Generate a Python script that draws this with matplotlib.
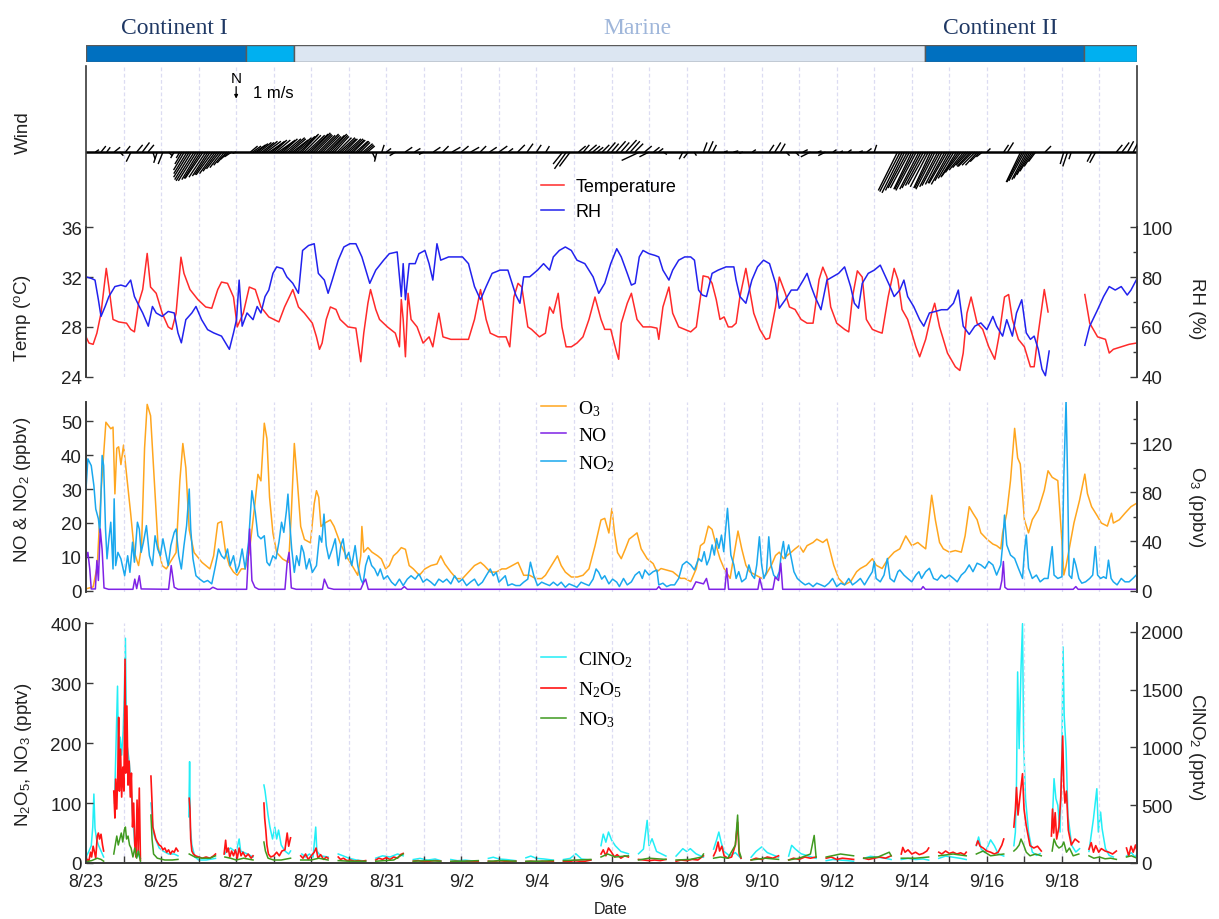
import numpy as np
import matplotlib
matplotlib.use('Agg')
import matplotlib.pyplot as plt

plt.rcParams['font.family'] = ['Liberation Sans', 'DejaVu Sans']
plt.rcParams['mathtext.fontset'] = 'custom'
plt.rcParams['mathtext.rm'] = 'Liberation Serif'
plt.rcParams['mathtext.it'] = 'Liberation Serif:italic'
plt.rcParams['mathtext.bf'] = 'Liberation Serif:bold'
plt.rcParams['mathtext.sf'] = 'Liberation Sans'

nan = np.nan

# === Data (time = days since 8/23 00:00) ===
date_labels = ['8/23', '8/25', '8/27', '8/29', '8/31', '9/2', '9/4',
               '9/6', '9/8', '9/10', '9/12', '9/14', '9/16', '9/18']

phase_names = ['Continent I', '', 'Marine', 'Continent II', '']
phase_start = [0.0, 4.27, 5.54, 22.35, 26.58]
phase_end = [4.27, 5.54, 22.35, 26.58, 28.0]

# wind sticks: (day, u m/s, v m/s)
wind_pts = [
    (0.25, 0.3, 0.2), (0.40, 0.4, 0.5), (0.55, 0.3, 0.4), (0.75, 0.5, 0.4), (0.90, 0.3, -0.3),
    (1.05, 0.4, 0.5), (1.20, -0.4, -0.8), (1.35, 0.5, 0.6), (1.50, 0.6, 0.8), (1.65, 0.5, 0.6),
    (1.78, 0.2, -0.6), (1.90, -0.3, -0.9), (2.05, -0.4, -1.0), (2.20, 0.3, -0.3), (2.35, -0.3, -0.5),
    (2.50, -0.3, -0.5), (2.62, -0.9, -1.5), (2.75, -1.3, -2.1), (2.88, -1.5, -2.4), (3.00, -1.4, -2.3),
    (3.12, -1.5, -2.2), (3.25, -1.3, -2.0), (3.38, -1.4, -1.9), (3.50, -1.2, -1.6), (3.62, -1.0, -1.3),
    (3.75, -0.8, -0.9), (3.88, -0.6, -0.4), (4.00, -0.3, -0.1),
    (4.38, 0.6, 0.5), (4.50, 0.9, 0.6), (4.62, 1.0, 0.8), (4.75, 1.1, 0.9), (4.88, 1.2, 0.8),
    (5.00, 1.1, 1.0), (5.12, 1.3, 0.9), (5.25, 1.2, 1.1), (5.38, 1.4, 1.2), (5.50, 1.3, 1.0),
    (5.62, 1.5, 1.3), (5.75, 1.4, 1.5), (5.88, 1.5, 1.4), (6.00, 1.6, 1.6), (6.12, 1.4, 1.4),
    (6.25, 1.5, 1.5), (6.38, 1.3, 1.3), (6.50, 1.4, 1.5), (6.62, 1.2, 1.3), (6.75, 1.3, 1.2),
    (6.88, 1.1, 1.1), (7.00, 1.2, 1.1), (7.12, 1.0, 1.0), (7.25, 0.9, 0.9), (7.38, 0.8, 0.7),
    (7.50, 0.6, 0.5), (7.62, 0.3, -0.6), (7.75, -0.2, -0.8), (7.88, 0.2, 0.6),
    (8.00, 0.4, 0.3), (8.25, -0.5, -0.3), (8.50, 0.6, 0.4), (8.75, 0.5, 0.3), (9.00, -0.4, -0.2),
    (9.25, 0.6, 0.4), (9.50, 0.5, 0.5), (9.75, 0.7, 0.4), (10.00, 0.6, 0.5), (10.25, 0.7, 0.4),
    (10.50, 0.5, 0.5), (10.75, 0.6, 0.4), (11.00, 0.7, 0.5), (11.25, 0.4, 0.3), (11.50, 0.6, 0.6),
    (11.75, 0.5, 0.7), (12.00, 0.4, 0.6), (12.25, 0.3, 0.5),
    (12.70, -0.8, -1.0), (12.80, -1.0, -1.4), (12.90, -0.9, -1.2),
    (13.12, 0.6, 0.5), (13.25, 0.5, 0.6), (13.38, 0.7, 0.6), (13.50, 0.6, 0.5), (13.62, 0.5, 0.4),
    (13.75, 0.6, 0.6), (13.88, 0.7, 0.8), (14.00, 0.6, 0.7), (14.12, 0.8, 0.9), (14.25, 0.7, 0.8),
    (14.38, 0.9, 1.0), (14.50, 0.8, 0.9), (14.62, 0.7, 0.7), (14.75, -1.5, -0.7), (14.88, 0.6, 0.5),
    (15.00, -0.8, -0.4), (15.12, 0.5, 0.4), (15.25, 0.4, 0.3), (15.38, 0.3, -0.2),
    (15.90, -0.3, -0.6), (16.05, -0.4, -0.5), (16.20, 0.2, -0.3),
    (16.45, 0.3, 0.8), (16.58, 0.4, 0.9), (16.70, 0.3, 0.6),
    (17.00, 0.3, 0.1), (17.25, 0.4, 0.1), (17.50, -0.3, -0.1), (17.75, 0.3, 0.2),
    (18.20, 0.4, 0.6), (18.35, 0.5, 0.8), (18.50, 0.4, 0.7), (18.65, 0.3, -0.3),
    (18.90, 0.3, -0.3), (19.10, 0.4, 0.2), (19.30, -0.8, -0.4), (19.50, 0.3, 0.1), (19.70, -0.6, -0.3),
    (19.90, 0.3, 0.2), (20.10, 0.2, 0.1), (20.30, 0.3, 0.2), (20.60, 0.3, 0.1), (20.80, 0.4, 0.3),
    (21.00, 0.2, 0.6),
    (21.62, -1.6, -3.2), (21.75, -1.7, -3.4), (21.88, -1.6, -3.0), (22.00, -1.5, -3.1), (22.12, -1.7, -3.2),
    (22.25, -1.6, -3.0), (22.38, -1.5, -2.7), (22.50, -1.4, -3.0), (22.62, -1.6, -3.1), (22.75, -1.5, -2.8),
    (22.88, -1.4, -2.6), (23.00, -1.5, -2.7), (23.12, -1.3, -2.2), (23.25, -1.4, -2.0), (23.38, -1.2, -1.5),
    (23.50, -1.0, -1.1), (23.62, -1.2, -1.2), (23.75, -1.0, -1.1), (23.88, -0.5, -0.4), (24.00, 0.3, 0.3),
    (24.45, 0.4, 0.6), (24.55, 0.5, 0.8),
    (24.90, -1.2, -2.5), (25.00, -1.3, -2.4), (25.10, -1.2, -2.2), (25.20, -1.0, -1.6), (25.30, -0.6, -0.8),
    (25.55, 0.5, 0.5),
    (26.05, -0.3, -1.0), (26.15, -0.4, -1.2), (26.25, -0.2, -0.6),
    (26.80, -0.4, -0.8), (26.90, -0.5, -0.9),
    (27.45, 0.5, 0.6), (27.60, 0.6, 0.8), (27.75, 0.5, 0.9), (27.90, 0.4, 0.8),
    # in-between sticks of the strong-wind spells
    (2.56, -0.6, -1.0), (2.69, -1.1, -1.8), (2.81, -1.4, -2.3), (2.94, -1.5, -2.4), (3.06, -1.4, -2.2),
    (3.19, -1.4, -2.1), (3.31, -1.3, -1.9), (3.44, -1.3, -1.8), (3.56, -1.1, -1.4), (3.69, -0.9, -1.1),
    (3.81, -0.7, -0.6),
    (4.44, 0.7, 0.5), (4.56, 0.9, 0.7), (4.69, 1.0, 0.8), (4.81, 1.2, 0.9), (4.94, 1.1, 0.9),
    (5.06, 1.2, 1.0), (5.19, 1.2, 1.0), (5.31, 1.3, 1.1), (5.44, 1.3, 1.1), (5.56, 1.4, 1.2),
    (5.69, 1.5, 1.4), (5.81, 1.4, 1.4), (5.94, 1.6, 1.5), (6.06, 1.5, 1.5), (6.19, 1.4, 1.4),
    (6.31, 1.4, 1.4), (6.44, 1.4, 1.4), (6.56, 1.3, 1.4), (6.69, 1.2, 1.2), (6.81, 1.2, 1.1),
    (6.94, 1.2, 1.1), (7.06, 1.1, 1.0), (7.19, 1.0, 0.9), (7.31, 0.8, 0.8), (7.44, 0.7, 0.6),
    (21.69, -1.7, -3.3), (21.81, -1.6, -3.2), (21.94, -1.6, -3.0), (22.06, -1.6, -3.1), (22.19, -1.6, -3.1),
    (22.31, -1.5, -2.8), (22.44, -1.5, -2.9), (22.56, -1.5, -3.0), (22.69, -1.5, -2.9), (22.81, -1.4, -2.7),
    (22.94, -1.5, -2.6), (23.06, -1.4, -2.4), (23.19, -1.3, -2.1), (23.31, -1.3, -1.7), (23.44, -1.1, -1.3),
    (23.56, -1.1, -1.2), (23.69, -1.1, -1.1), (23.81, -0.8, -0.8),
    (24.95, -1.3, -2.5), (25.05, -1.2, -2.3), (25.15, -1.1, -1.9), (25.25, -0.8, -1.2)]

temp_pts = [
    (0.00, 27.2), (0.08, 26.7), (0.19, 26.6), (0.29, 27.5), (0.40, 29.1), (0.54, 32.7), (0.61, 31.2),
    (0.72, 28.6), (0.87, 28.4), (1.08, 28.3), (1.19, 27.8), (1.29, 27.6), (1.40, 29.9), (1.51, 31.0),
    (1.63, 33.9), (1.72, 31.2), (1.87, 30.7), (2.03, 29.1), (2.19, 28.0), (2.29, 27.8), (2.40, 29.1),
    (2.53, 33.6), (2.61, 32.3), (2.77, 31.0), (2.98, 30.2), (3.19, 29.6), (3.35, 29.5), (3.51, 31.0),
    (3.61, 31.6), (3.77, 31.5), (3.93, 30.4), (4.03, 28.0), (4.19, 29.1), (4.35, 31.2), (4.51, 31.0),
    (4.66, 29.6), (4.87, 28.8), (5.14, 28.4), (5.29, 29.6), (5.51, 31.0), (5.66, 29.6), (5.82, 29.1),
    (6.03, 28.3), (6.14, 27.2), (6.22, 26.2), (6.29, 26.7), (6.40, 28.6), (6.51, 29.6), (6.66, 29.4),
    (6.77, 28.6), (6.98, 28.0), (7.19, 27.9), (7.32, 25.2), (7.40, 27.5), (7.51, 29.9), (7.58, 31.0),
    (7.72, 29.4), (7.82, 28.6), (8.03, 28.0), (8.24, 27.5), (8.35, 26.4), (8.40, 30.2), (8.45, 28.6),
    (8.51, 25.6), (8.58, 30.7), (8.66, 28.6), (8.82, 28.0), (8.98, 26.7), (9.14, 27.2), (9.24, 26.4),
    (9.35, 28.3), (9.40, 29.1), (9.51, 27.2), (9.72, 27.0), (9.93, 27.0), (10.19, 27.0), (10.35, 28.6),
    (10.51, 31.0), (10.66, 28.6), (10.77, 27.5), (10.98, 27.2), (11.19, 27.2), (11.29, 26.4), (11.40, 30.4),
    (11.51, 31.5), (11.61, 31.2), (11.77, 28.0), (11.87, 27.8), (12.08, 27.2), (12.24, 27.5), (12.35, 29.6),
    (12.45, 29.1), (12.58, 30.7), (12.68, 28.0), (12.79, 26.4), (12.93, 26.4), (13.08, 26.7), (13.24, 27.2),
    (13.40, 28.6), (13.56, 30.4), (13.72, 28.6), (13.82, 27.8), (13.98, 27.8), (14.14, 25.9), (14.19, 25.4),
    (14.26, 28.3), (14.42, 29.9), (14.53, 30.7), (14.68, 28.6), (14.84, 28.0), (15.05, 28.0), (15.21, 27.9),
    (15.26, 27.0), (15.37, 29.6), (15.53, 31.2), (15.63, 29.1), (15.79, 28.0), (15.95, 27.8), (16.11, 27.6),
    (16.26, 28.0), (16.37, 30.4), (16.44, 32.1), (16.58, 32.0), (16.68, 31.5), (16.79, 30.2), (16.89, 28.6),
    (17.00, 28.8), (17.11, 28.0), (17.21, 28.0), (17.32, 28.3), (17.42, 30.4), (17.58, 32.7), (17.68, 31.0),
    (17.79, 29.1), (17.95, 27.8), (18.11, 27.0), (18.21, 27.1), (18.37, 29.6), (18.47, 32.0), (18.63, 30.7),
    (18.74, 29.6), (18.89, 29.4), (19.05, 28.6), (19.21, 28.3), (19.37, 28.3), (19.53, 31.8), (19.63, 32.8),
    (19.74, 32.0), (19.84, 29.6), (20.00, 28.3), (20.21, 27.8), (20.32, 27.6), (20.42, 30.4), (20.55, 32.5),
    (20.68, 32.0), (20.79, 28.6), (20.95, 27.8), (21.11, 27.6), (21.21, 27.5), (21.37, 30.4), (21.53, 32.7),
    (21.63, 31.8), (21.74, 29.4), (21.89, 28.6), (22.11, 26.4), (22.21, 25.6), (22.37, 27.0), (22.53, 29.1),
    (22.61, 29.9), (22.74, 28.0), (22.95, 25.9), (23.16, 24.8), (23.28, 24.5), (23.37, 25.9), (23.47, 29.1),
    (23.58, 30.4), (23.74, 28.3), (23.89, 27.8), (24.05, 26.4), (24.21, 25.4), (24.32, 27.2), (24.47, 30.4),
    (24.58, 30.6), (24.68, 28.6), (24.84, 27.0), (25.00, 26.4), (25.16, 24.8), (25.26, 24.8), (25.37, 27.5),
    (25.53, 31.0), (25.63, 29.2), (26.10, nan), (26.61, 30.6), (26.74, 28.3), (26.95, 27.2), (27.16, 27.0),
    (27.26, 25.9), (27.37, 26.2), (27.58, 26.4), (27.79, 26.6), (27.98, 26.7)]

rh_pts = [
    (0.00, 80.1), (0.14, 79.5), (0.24, 78.8), (0.33, 70.9), (0.40, 64.2), (0.51, 68.2), (0.61, 72.2),
    (0.77, 76.2), (0.93, 76.8), (1.06, 76.2), (1.19, 78.8), (1.29, 72.2), (1.42, 68.2), (1.51, 65.6),
    (1.66, 60.3), (1.77, 68.2), (1.87, 65.6), (2.03, 64.2), (2.19, 66.2), (2.35, 65.6), (2.45, 57.6),
    (2.54, 53.6), (2.66, 62.9), (2.82, 65.6), (2.93, 68.2), (3.08, 62.9), (3.24, 58.9), (3.40, 57.6),
    (3.61, 56.3), (3.82, 51.0), (3.93, 57.6), (4.01, 62.9), (4.08, 78.8), (4.16, 60.3), (4.29, 65.6),
    (4.45, 62.9), (4.56, 68.2), (4.66, 65.6), (4.77, 72.2), (4.87, 74.8), (4.98, 81.5), (5.08, 84.1),
    (5.24, 83.4), (5.35, 80.1), (5.51, 77.5), (5.66, 73.5), (5.77, 90.7), (5.93, 92.7), (6.08, 93.4),
    (6.19, 81.5), (6.35, 78.8), (6.45, 73.5), (6.56, 78.8), (6.72, 86.8), (6.87, 92.1), (7.03, 93.4),
    (7.19, 93.4), (7.35, 88.1), (7.56, 77.5), (7.72, 82.8), (7.93, 86.8), (8.08, 89.4), (8.29, 90.1),
    (8.40, 72.2), (8.45, 85.4), (8.51, 70.9), (8.61, 85.4), (8.77, 85.4), (8.87, 89.4), (9.03, 90.7),
    (9.14, 85.4), (9.24, 78.8), (9.35, 93.4), (9.45, 86.8), (9.66, 88.1), (9.82, 88.1), (10.03, 88.1),
    (10.19, 85.4), (10.35, 76.2), (10.51, 70.9), (10.66, 76.2), (10.82, 81.5), (11.03, 82.8), (11.24, 82.8),
    (11.35, 77.5), (11.45, 72.8), (11.56, 69.5), (11.66, 80.1), (11.82, 80.1), (12.03, 82.8), (12.19, 85.4),
    (12.35, 82.8), (12.45, 88.1), (12.61, 90.7), (12.77, 92.1), (12.93, 90.7), (13.08, 86.8), (13.29, 85.4),
    (13.51, 80.1), (13.66, 73.5), (13.82, 77.5), (13.98, 85.4), (14.14, 91.4), (14.26, 88.1), (14.42, 81.5),
    (14.53, 76.8), (14.63, 77.5), (14.74, 88.1), (14.84, 90.7), (15.00, 89.4), (15.16, 88.7), (15.26, 88.1),
    (15.37, 82.8), (15.53, 78.8), (15.63, 82.8), (15.79, 86.8), (15.95, 88.1), (16.11, 88.1), (16.21, 86.8),
    (16.32, 74.8), (16.42, 72.8), (16.53, 72.2), (16.68, 81.5), (16.84, 82.8), (17.05, 84.1), (17.26, 84.1),
    (17.32, 78.8), (17.42, 72.2), (17.58, 69.5), (17.74, 78.8), (17.89, 84.1), (18.05, 86.8), (18.21, 85.4),
    (18.37, 77.5), (18.47, 67.5), (18.63, 70.9), (18.79, 74.8), (18.95, 74.8), (19.11, 78.8), (19.21, 81.5),
    (19.32, 76.2), (19.42, 72.2), (19.58, 66.9), (19.74, 78.8), (19.89, 80.1), (20.05, 81.5), (20.21, 84.1),
    (20.37, 76.2), (20.47, 69.5), (20.58, 67.5), (20.68, 77.5), (20.84, 81.5), (21.00, 82.8), (21.16, 84.8),
    (21.26, 81.5), (21.42, 76.2), (21.53, 72.2), (21.68, 74.8), (21.79, 78.8), (21.89, 72.2), (22.05, 68.2),
    (22.21, 62.9), (22.32, 60.3), (22.47, 65.6), (22.63, 66.2), (22.79, 66.9), (22.95, 66.9), (23.11, 69.5),
    (23.24, 74.8), (23.37, 60.3), (23.53, 57.0), (23.68, 60.3), (23.84, 61.6), (24.00, 58.9), (24.16, 64.2),
    (24.26, 60.3), (24.42, 56.3), (24.53, 62.9), (24.68, 56.3), (24.79, 65.6), (24.93, 70.9), (25.05, 57.6),
    (25.16, 55.0), (25.26, 56.3), (25.37, 51.0), (25.47, 43.0), (25.56, 40.4), (25.66, 50.3), (26.10, nan),
    (26.61, 52.6), (26.74, 60.3), (26.95, 66.9), (27.11, 72.2), (27.26, 76.2), (27.42, 74.8), (27.58, 76.2),
    (27.74, 72.8), (27.84, 74.8), (27.98, 78.8)]

o3_pts = [
    (0.00, 1.5), (0.19, 3.0), (0.30, 20), (0.40, 80), (0.53, 137), (0.66, 131.7), (0.72, 133), (0.77, 78.7),
    (0.82, 115.8), (0.87, 117), (0.93, 102.5), (1.00, 118.4), (1.08, 94.6), (1.19, 62.8), (1.29, 31),
    (1.40, 20.4), (1.48, 36.3), (1.56, 115.8), (1.63, 151.5), (1.72, 142.3), (1.82, 89.3), (1.92, 36.3),
    (2.03, 20.4), (2.14, 17.7), (2.24, 23), (2.40, 31), (2.50, 89.3), (2.58, 119.7), (2.66, 99.9),
    (2.75, 49.5), (2.88, 31), (3.09, 23), (3.30, 17.7), (3.40, 28.3), (3.51, 54.8), (3.61, 56.2),
    (3.72, 31), (3.82, 20.4), (3.93, 15.1), (4.03, 12.5), (4.14, 17.7), (4.24, 17.7), (4.35, 31),
    (4.50, 70.7), (4.58, 94.6), (4.66, 89.3), (4.75, 136.2), (4.82, 123.7), (4.89, 76), (4.98, 46.9),
    (5.08, 31), (5.24, 25.7), (5.40, 23), (5.47, 62.8), (5.55, 119.7), (5.63, 89.3), (5.72, 52.2),
    (5.82, 41.6), (5.98, 38.9), (6.08, 70.7), (6.14, 81.3), (6.20, 76), (6.26, 52.2), (6.35, 54.8),
    (6.51, 57.5), (6.61, 52.2), (6.77, 38.9), (6.93, 28.3), (7.09, 20.4), (7.24, 12.5), (7.32, 28.3),
    (7.35, 52.2), (7.40, 31.3), (7.51, 35), (7.62, 31.3), (7.77, 28.3), (7.87, 25.7), (7.98, 17.7),
    (8.08, 20.4), (8.19, 28.3), (8.29, 31), (8.40, 35), (8.51, 33.6), (8.61, 20.4), (8.72, 17.7),
    (8.88, 12.5), (9.03, 17.7), (9.19, 20.4), (9.35, 21.7), (9.45, 28.3), (9.56, 21.7), (9.72, 15.1),
    (9.87, 9.8), (10.03, 9.8), (10.19, 15.1), (10.35, 20.4), (10.51, 23), (10.61, 20.4), (10.77, 15.1),
    (10.93, 15.1), (11.08, 17.7), (11.19, 17.7), (11.35, 20.4), (11.51, 23), (11.66, 12.5), (11.82, 12.5),
    (11.98, 9.8), (12.14, 9.8), (12.24, 12.5), (12.40, 20.4), (12.56, 28.3), (12.66, 20.4), (12.77, 15.1),
    (12.93, 11.1), (13.09, 11.1), (13.24, 12.5), (13.40, 17.7), (13.56, 36.3), (13.72, 57.5), (13.82, 58.8),
    (13.93, 46.9), (14.01, 66.8), (14.08, 46.9), (14.16, 31), (14.26, 26), (14.37, 34), (14.47, 41.9),
    (14.58, 44.5), (14.68, 47), (14.79, 34), (14.95, 26), (15.11, 22), (15.21, 15.4), (15.32, 18),
    (15.47, 16.7), (15.63, 15.4), (15.74, 12.7), (15.84, 10), (15.95, 10), (16.11, 7.4), (16.26, 18),
    (16.37, 36.6), (16.47, 39), (16.58, 52.5), (16.68, 49.8), (16.79, 36.6), (16.89, 26), (17.00, 18),
    (17.16, 10), (17.26, 28.6), (17.37, 48.5), (17.47, 34), (17.58, 20.7), (17.68, 15.4), (17.84, 12.7),
    (18.00, 10), (18.11, 12.7), (18.26, 20.7), (18.37, 28.6), (18.47, 31.3), (18.58, 26), (18.68, 28.6),
    (18.79, 31.3), (18.89, 34), (19.00, 36.6), (19.11, 31.3), (19.21, 36.6), (19.37, 39.2), (19.47, 41.9),
    (19.63, 39.2), (19.74, 41.9), (19.81, 34), (19.92, 20.7), (20.05, 10), (20.21, 4.8), (20.37, 7.4),
    (20.53, 15.4), (20.63, 18), (20.79, 20.7), (20.95, 26), (21.05, 20.7), (21.21, 18), (21.37, 26),
    (21.53, 31.3), (21.68, 34), (21.84, 44.5), (22.00, 36.6), (22.16, 39.2), (22.26, 36.6), (22.37, 34),
    (22.53, 77.6), (22.63, 57.2), (22.74, 39.2), (22.84, 34), (23.00, 31.3), (23.16, 32.6), (23.32, 31.3),
    (23.42, 44.5), (23.53, 68.3), (23.63, 63), (23.74, 57.7), (23.84, 47), (24.00, 41.9), (24.16, 37.9),
    (24.26, 36.6), (24.37, 34), (24.42, 47), (24.53, 63), (24.63, 89.5), (24.74, 132), (24.82, 108),
    (24.89, 103), (25.00, 57.7), (25.11, 47), (25.21, 57.7), (25.37, 65.7), (25.53, 81.6), (25.63, 97.5),
    (25.74, 92.2), (25.89, 89.5), (26.00, 40), (26.05, 12.7), (26.11, 20), (26.21, 36.6), (26.32, 55),
    (26.47, 73.6), (26.61, 94.8), (26.68, 78.9), (26.79, 68.3), (26.95, 60.4), (27.05, 55), (27.21, 52.5),
    (27.32, 63), (27.37, 55), (27.53, 57.7), (27.68, 63), (27.84, 68.3), (27.98, 70.9)]

no_pts = [
    (0.00, 9.4), (0.05, 11.3), (0.10, 6.4), (0.14, 0.5), (0.25, 0.5), (0.29, 8.9), (0.33, 3.0), (0.38, 18.2),
    (0.43, 12.0), (0.48, 0.8), (0.60, 0.4), (1.25, 0.4), (1.30, 3.4), (1.35, 0.6), (1.42, 4.4), (1.47, 0.5),
    (2.20, 0.4), (2.27, 7.4), (2.35, 1.0), (2.45, 0.4), (3.30, 0.4), (3.38, 1.0), (3.50, 0.4), (4.28, 0.4),
    (4.36, 18.2), (4.42, 3.0), (4.50, 1.0), (4.60, 0.4), (5.30, 0.4), (5.36, 8.4), (5.41, 11.3), (5.47, 0.8),
    (5.60, 0.4), (6.30, 0.4), (6.35, 3.4), (6.45, 0.8), (6.60, 0.4), (7.32, 0.4), (7.40, 2.5), (7.45, 3.4),
    (7.52, 0.4), (8.40, 0.4), (8.48, 1.2), (8.56, 0.4), (15.20, 0.4), (15.26, 1.2), (15.32, 0.4),
    (16.15, 0.4), (16.25, 2.6), (16.45, 2.0), (16.53, 3.6), (16.60, 0.4), (17.02, 0.4), (17.07, 6.6),
    (17.12, 0.4), (17.90, 0.4), (17.95, 3.6), (18.02, 0.4), (18.30, 0.4), (18.36, 4.0), (18.45, 3.0),
    (18.51, 8.1), (18.56, 0.4), (22.25, 0.4), (22.30, 1.2), (22.36, 0.4), (24.35, 0.4), (24.40, 3.0),
    (24.44, 8.6), (24.48, 1.0), (24.55, 0.4), (26.30, 0.4), (26.37, 1.2), (26.43, 0.4), (28.00, 0.4)]

no2_pts = [
    (0.00, 30.0), (0.05, 38.9), (0.14, 36.9), (0.21, 31.0), (0.26, 24.1), (0.33, 21.2), (0.37, 17.2),
    (0.43, 39.9), (0.47, 36.9), (0.52, 18.2), (0.56, 9.4), (0.61, 15.3), (0.66, 20.2), (0.72, 6.4),
    (0.75, 27.1), (0.79, 7.4), (0.85, 11.3), (0.93, 9.4), (1.03, 4.4), (1.11, 10.3), (1.17, 5.4),
    (1.24, 14.3), (1.29, 8.4), (1.37, 20.2), (1.42, 18.2), (1.47, 11.3), (1.53, 14.3), (1.61, 19.2),
    (1.69, 10.3), (1.77, 7.4), (1.84, 16.2), (1.91, 12.3), (1.98, 10.3), (2.05, 15.3), (2.12, 11.3),
    (2.19, 7.4), (2.26, 13.3), (2.35, 17.2), (2.40, 18.2), (2.47, 10.3), (2.54, 6.4), (2.61, 13.3),
    (2.68, 19.2), (2.75, 30.0), (2.79, 18.2), (2.85, 9.4), (2.93, 4.4), (3.03, 3.4), (3.14, 2.5),
    (3.24, 3.0), (3.35, 2.0), (3.45, 7.4), (3.53, 12.3), (3.61, 10.3), (3.69, 9.4), (3.77, 12.3),
    (3.84, 7.4), (3.93, 10.3), (4.01, 5.4), (4.08, 7.4), (4.16, 12.3), (4.24, 6.4), (4.33, 14.3),
    (4.42, 29.5), (4.51, 23.1), (4.58, 16.2), (4.66, 15.3), (4.75, 16.2), (4.82, 8.4), (4.89, 7.4),
    (4.98, 10.3), (5.06, 9.4), (5.14, 14.3), (5.21, 20.2), (5.27, 17.2), (5.34, 23.6), (5.38, 28.5),
    (5.42, 21.2), (5.48, 12.3), (5.55, 5.4), (5.61, 10.3), (5.68, 7.4), (5.74, 13.3), (5.80, 11.3),
    (5.87, 6.4), (5.95, 9.4), (6.03, 5.4), (6.14, 7.4), (6.22, 16.2), (6.28, 14.3), (6.34, 22.6),
    (6.40, 13.3), (6.47, 9.4), (6.56, 12.3), (6.64, 15.3), (6.72, 7.4), (6.79, 13.3), (6.85, 15.3),
    (6.92, 9.4), (7.00, 11.3), (7.08, 7.4), (7.17, 13.3), (7.24, 7.4), (7.32, 3.4), (7.38, 2.0),
    (7.45, 7.4), (7.53, 10.3), (7.61, 7.4), (7.69, 6.4), (7.77, 4.4), (7.84, 6.4), (7.93, 3.4),
    (8.03, 4.4), (8.14, 2.5), (8.24, 1.5), (8.35, 3.4), (8.45, 1.5), (8.56, 3.4), (8.66, 4.4),
    (8.77, 3.4), (8.87, 4.9), (8.98, 2.5), (9.08, 3.4), (9.19, 2.5), (9.29, 1.5), (9.40, 3.4),
    (9.51, 2.5), (9.61, 3.4), (9.72, 2.0), (9.82, 4.4), (9.93, 2.5), (10.03, 3.4), (10.14, 1.5),
    (10.24, 2.5), (10.35, 3.4), (10.45, 1.5), (10.56, 2.5), (10.66, 4.4), (10.77, 6.4), (10.85, 4.4),
    (10.93, 5.4), (11.00, 2.5), (11.08, 3.4), (11.17, 4.4), (11.24, 1.5), (11.35, 2.0), (11.45, 1.5),
    (11.56, 1.5), (11.66, 2.5), (11.77, 3.4), (11.84, 8.4), (11.93, 4.4), (12.03, 1.5), (12.14, 2.5),
    (12.24, 2.0), (12.35, 1.5), (12.45, 2.5), (12.56, 1.5), (12.66, 2.5), (12.77, 1.0), (12.87, 2.0),
    (12.98, 1.5), (13.08, 1.0), (13.19, 2.5), (13.29, 2.0), (13.40, 1.5), (13.51, 3.4), (13.59, 6.4),
    (13.66, 5.4), (13.74, 3.4), (13.82, 4.4), (13.93, 2.0), (14.03, 3.4), (14.14, 2.5),
    (14.21, 1.2), (14.32, 3.6), (14.42, 1.7), (14.53, 2.6), (14.63, 4.6), (14.74, 5.6), (14.82, 3.6),
    (14.89, 6.1), (15.00, 4.6), (15.11, 5.6), (15.21, 6.1), (15.26, 1.7), (15.37, 2.2), (15.47, 1.2),
    (15.58, 1.7), (15.68, 1.7), (15.79, 3.6), (15.89, 7.6), (16.00, 8.6), (16.11, 7.6), (16.21, 6.1),
    (16.32, 9.5), (16.40, 8.6), (16.47, 11.5), (16.54, 7.6), (16.61, 9.5), (16.68, 13.5), (16.74, 10.5),
    (16.80, 15.4), (16.86, 12.5), (16.93, 16.4), (16.99, 11.5), (17.05, 19.4), (17.09, 24.3), (17.14, 16.4),
    (17.18, 10.5), (17.26, 7.6), (17.32, 3.6), (17.39, 5.6), (17.47, 2.6), (17.58, 3.6), (17.66, 7.6),
    (17.74, 4.6), (17.81, 3.6), (17.87, 7.6), (17.94, 15.9), (18.00, 7.6), (18.06, 3.6), (18.13, 5.6),
    (18.19, 15.9), (18.25, 7.6), (18.32, 4.6), (18.40, 3.6), (18.47, 5.6), (18.53, 11.5), (18.58, 14.5),
    (18.63, 9.5), (18.72, 13.5), (18.79, 9.5), (18.86, 5.6), (18.95, 3.6), (19.05, 2.6), (19.16, 1.7),
    (19.26, 2.2), (19.37, 1.2), (19.47, 2.2), (19.58, 1.7), (19.68, 1.2), (19.79, 2.2), (19.89, 3.6),
    (20.00, 1.2), (20.11, 2.2), (20.21, 1.7), (20.32, 3.6), (20.42, 1.7), (20.53, 2.6), (20.63, 3.6),
    (20.74, 1.7), (20.84, 3.6), (20.95, 5.6), (21.00, 8.6), (21.05, 3.6), (21.16, 2.6), (21.26, 4.6),
    (21.35, 9.5), (21.42, 3.6), (21.53, 2.6), (21.63, 5.6), (21.68, 6.1), (21.79, 4.6), (21.89, 3.6),
    (22.00, 2.6), (22.11, 4.6), (22.19, 5.6), (22.26, 3.6), (22.37, 5.6), (22.47, 6.6), (22.58, 3.6),
    (22.68, 3.1), (22.79, 4.6), (22.89, 3.6), (23.00, 4.6), (23.11, 3.6), (23.21, 2.6), (23.32, 4.6),
    (23.42, 5.6), (23.53, 7.6), (23.63, 5.6), (23.74, 8.1), (23.84, 7.6), (23.95, 6.6), (24.05, 8.6),
    (24.16, 7.6), (24.26, 4.6), (24.37, 7.6), (24.42, 13.5), (24.47, 22.3), (24.53, 13.5), (24.63, 10.5),
    (24.74, 9.5), (24.84, 6.6), (24.95, 3.6), (25.00, 11.5), (25.05, 16.4), (25.11, 6.6), (25.21, 3.6),
    (25.32, 4.6), (25.42, 2.6), (25.53, 3.6), (25.63, 3.6), (25.74, 13.0), (25.79, 4.6), (25.89, 3.6),
    (26.00, 4.1), (26.05, 33.5), (26.11, 56.3), (26.15, 33.5), (26.19, 4.6), (26.26, 3.6), (26.32, 9.5),
    (26.37, 7.6), (26.45, 3.6), (26.53, 2.2), (26.63, 2.6), (26.74, 3.6), (26.82, 4.6), (26.89, 13.0),
    (26.95, 4.6), (27.03, 3.6), (27.11, 4.1), (27.18, 3.6), (27.24, 9.0), (27.31, 3.6), (27.37, 2.6),
    (27.47, 1.7), (27.58, 3.6), (27.68, 2.6), (27.79, 2.6), (27.89, 3.6), (27.98, 4.6)]

n2o5_pts = [
    (0.00, 2), (0.04, 6), (0.08, 4), (0.12, 18), (0.15, 10), (0.19, 28), (0.22, 20), (0.26, 8), (0.30, 45),
    (0.33, 50), (0.36, 40), (0.40, 48), (0.44, 30), (0.47, 20), (0.6, nan),
    (0.74, 120), (0.77, 75), (0.79, 140), (0.82, 90), (0.85, 160), (0.87, 243), (0.89, 120), (0.92, 190),
    (0.95, 110), (0.98, 160), (1.01, 120), (1.04, 340), (1.06, 150), (1.09, 262), (1.12, 130), (1.15, 170),
    (1.18, 110), (1.21, 150), (1.24, 60), (1.27, 100), (1.30, 30), (1.33, 10), (1.36, 105), (1.39, 20),
    (1.42, 125), (1.45, 5), (1.6, nan),
    (1.73, 145), (1.76, 100), (1.78, 60), (1.82, 50), (1.86, 40), (1.90, 35), (1.95, 30), (2.00, 28),
    (2.05, 22), (2.10, 25), (2.15, 18), (2.20, 22), (2.25, 15), (2.30, 20), (2.35, 18), (2.40, 25),
    (2.45, 20), (2.6, nan),
    (2.75, 108), (2.77, 90), (2.79, 40), (2.82, 20), (2.86, 15), (2.92, 12), (3.00, 10), (3.10, 8),
    (3.20, 10), (3.30, 8), (3.40, 12), (3.45, 15), (3.6, nan),
    (3.68, 15), (3.72, 38), (3.75, 18), (3.79, 25), (3.83, 10), (3.88, 20), (3.93, 12), (3.98, 22),
    (4.03, 8), (4.08, 25), (4.13, 12), (4.18, 18), (4.25, 10), (4.32, 15), (4.40, 8), (4.45, 12), (4.6, nan),
    (4.74, 100), (4.76, 75), (4.79, 55), (4.82, 30), (4.86, 15), (4.92, 10), (5.00, 12), (5.08, 18),
    (5.15, 12), (5.22, 20), (5.30, 22), (5.36, 50), (5.40, 28), (5.45, 42), (5.6, nan),
    (5.72, 12), (5.78, 8), (5.85, 15), (5.92, 6), (6.00, 12), (6.08, 18), (6.13, 25), (6.18, 8),
    (6.25, 14), (6.33, 6), (6.40, 10), (6.45, 8), (6.6, nan),
    (6.72, 10), (6.78, 6), (6.86, 8), (6.95, 4), (7.05, 5), (7.15, 3), (7.25, 4), (7.35, 3), (7.45, 4), (7.6, nan),
    (7.72, 5), (7.80, 8), (7.90, 6), (8.00, 9), (8.10, 6), (8.20, 10), (8.30, 8), (8.38, 14), (8.45, 16), (8.6, nan),
    (8.72, 3), (8.85, 4), (9.00, 2), (9.15, 3), (9.30, 4), (9.45, 3), (9.6, nan),
    (9.72, 2), (9.85, 3), (10.00, 2), (10.15, 3), (10.30, 2), (10.45, 3), (10.6, nan),
    (10.72, 3), (10.85, 2), (11.00, 4), (11.15, 3), (11.30, 2), (11.45, 3), (11.6, nan),
    (11.72, 2), (11.85, 3), (12.00, 2), (12.15, 3), (12.30, 2), (12.45, 3), (12.6, nan),
    (12.72, 3), (12.85, 2), (13.00, 4), (13.15, 3), (13.30, 3), (13.45, 5), (13.6, nan),
    (13.72, 15), (13.78, 22), (13.85, 12), (13.92, 25), (14.00, 18), (14.08, 10), (14.15, 14), (14.25, 8),
    (14.35, 12), (14.45, 10), (14.6, nan),
    (14.72, 6), (14.85, 5), (15.00, 4), (15.15, 5), (15.30, 4), (15.45, 6), (15.6, nan),
    (15.72, 3), (15.85, 5), (16.00, 4), (16.15, 6), (16.30, 5), (16.45, 12), (16.6, nan),
    (16.72, 12), (16.78, 20), (16.84, 35), (16.88, 20), (16.94, 28), (17.00, 12), (17.10, 8), (17.20, 10),
    (17.30, 30), (17.36, 68), (17.40, 15), (17.45, 8), (17.6, nan),
    (17.72, 5), (17.85, 8), (18.00, 6), (18.15, 10), (18.30, 8), (18.45, 12), (18.6, nan),
    (18.72, 5), (18.85, 8), (19.00, 6), (19.15, 10), (19.30, 8), (19.45, 10), (19.6, nan),
    (19.72, 8), (19.85, 10), (20.00, 6), (20.15, 8), (20.30, 7), (20.45, 6), (20.6, nan),
    (20.72, 8), (20.85, 6), (21.00, 8), (21.15, 10), (21.30, 8), (21.45, 12), (21.6, nan),
    (21.72, 15), (21.76, 26), (21.82, 18), (21.90, 22), (22.00, 15), (22.10, 18), (22.20, 14), (22.30, 16),
    (22.40, 20), (22.45, 25), (22.6, nan),
    (22.72, 18), (22.80, 15), (22.90, 20), (23.00, 16), (23.10, 18), (23.20, 15), (23.30, 17), (23.40, 14),
    (23.45, 18), (23.6, nan),
    (23.72, 30), (23.76, 37), (23.82, 28), (23.90, 25), (24.00, 20), (24.10, 18), (24.20, 15), (24.30, 18),
    (24.40, 30), (24.45, 40), (24.6, nan),
    (24.72, 60), (24.76, 90), (24.79, 126), (24.83, 80), (24.88, 110), (24.95, 149), (24.99, 90), (25.05, 62),
    (25.15, 29), (25.25, 25), (25.35, 28), (25.45, 20), (25.6, nan),
    (25.72, 45), (25.75, 90), (25.78, 50), (25.82, 84), (25.86, 40), (25.92, 60), (25.97, 110), (26.02, 212),
    (26.05, 129), (26.08, 100), (26.12, 120), (26.17, 55), (26.25, 30), (26.35, 40), (26.45, 35), (26.6, nan),
    (26.72, 23), (26.78, 34), (26.84, 18), (26.90, 29), (26.98, 18), (27.05, 24), (27.15, 20), (27.25, 18),
    (27.35, 15), (27.45, 20), (27.6, nan),
    (27.72, 25), (27.78, 12), (27.84, 28), (27.90, 18), (27.96, 30), (28.00, 20)]

clno2_pts = [
    (0.00, 50), (0.08, 104), (0.14, 150), (0.18, 311), (0.21, 597), (0.24, 300), (0.28, 208), (0.33, 156),
    (0.40, 104), (0.47, 52), (0.6, nan),
    (0.76, 519), (0.80, 1038), (0.84, 1531), (0.87, 778), (0.91, 1090), (0.95, 934), (0.99, 1142), (1.02, 1453),
    (1.05, 1946), (1.08, 1038), (1.11, 986), (1.15, 882), (1.19, 727), (1.24, 415), (1.30, 156), (1.36, 104),
    (1.42, 52), (1.45, 40), (1.6, nan),
    (1.73, 519), (1.76, 400), (1.80, 260), (1.85, 208), (1.95, 130), (2.05, 104), (2.20, 78), (2.35, 78),
    (2.45, 62), (2.6, nan),
    (2.74, 400), (2.76, 877), (2.78, 311), (2.82, 156), (2.90, 52), (3.00, 26), (3.20, 26), (3.45, 40), (3.6, nan),
    (3.70, 80), (3.75, 104), (3.85, 130), (4.00, 93), (4.08, 208), (4.12, 104), (4.30, 78), (4.45, 52), (4.6, nan),
    (4.74, 675), (4.77, 623), (4.81, 519), (4.85, 415), (4.90, 311), (4.97, 208), (5.03, 311), (5.08, 208),
    (5.13, 285), (5.20, 156), (5.30, 104), (5.40, 78), (5.45, 104), (5.6, nan),
    (5.75, 78), (5.85, 52), (5.95, 78), (6.05, 52), (6.12, 311), (6.15, 104), (6.25, 62), (6.45, 52), (6.6, nan),
    (6.72, 78), (6.85, 62), (7.00, 42), (7.20, 26), (7.45, 16), (7.6, nan),
    (7.72, 42), (7.90, 62), (8.10, 52), (8.30, 78), (8.45, 62), (8.6, nan),
    (8.72, 30), (8.90, 40), (9.10, 25), (9.30, 35), (9.45, 20), (9.6, nan),
    (9.72, 30), (9.90, 20), (10.10, 25), (10.30, 18), (10.45, 15), (10.6, nan),
    (10.72, 40), (10.85, 50), (11.00, 35), (11.20, 30), (11.45, 20), (11.6, nan),
    (11.72, 45), (11.85, 60), (12.00, 40), (12.20, 35), (12.45, 25), (12.6, nan),
    (12.72, 30), (12.90, 40), (13.05, 80), (13.20, 35), (13.45, 25), (13.6, nan),
    (13.72, 150), (13.78, 250), (13.85, 180), (13.92, 268), (14.00, 200), (14.10, 150), (14.25, 100),
    (14.45, 80), (14.6, nan),
    (14.72, 80), (14.85, 120), (14.95, 369), (15.00, 150), (15.08, 210), (15.20, 100), (15.45, 60), (15.6, nan),
    (15.72, 60), (15.90, 124), (16.00, 100), (16.10, 124), (16.25, 80), (16.45, 50), (16.6, nan),
    (16.72, 120), (16.80, 200), (16.86, 268), (16.92, 180), (17.00, 100), (17.15, 60), (17.30, 90),
    (17.45, 40), (17.6, nan),
    (17.72, 50), (17.85, 100), (18.00, 139), (18.15, 90), (18.30, 70), (18.45, 50), (18.6, nan),
    (18.72, 60), (18.80, 153), (18.90, 120), (19.05, 80), (19.25, 60), (19.45, 40), (19.6, nan),
    (19.72, 20), (19.90, 30), (20.10, 25), (20.30, 20), (20.45, 15), (20.6, nan),
    (20.72, 40), (20.90, 58), (21.10, 50), (21.30, 40), (21.45, 30), (21.6, nan),
    (21.72, 30), (21.90, 40), (22.10, 30), (22.30, 35), (22.45, 25), (22.6, nan),
    (22.72, 40), (22.90, 60), (23.10, 50), (23.30, 40), (23.45, 30), (23.6, nan),
    (23.72, 150), (23.78, 225), (23.85, 120), (23.95, 90), (24.10, 200), (24.20, 150), (24.30, 80),
    (24.45, 60), (24.6, nan),
    (24.72, 150), (24.76, 268), (24.79, 701), (24.82, 1654), (24.86, 990), (24.91, 1683), (24.95, 2072),
    (24.98, 1048), (25.03, 557), (25.11, 268), (25.21, 95), (25.32, 66), (25.42, 81), (25.6, nan),
    (25.74, 326), (25.79, 730), (25.84, 557), (25.89, 500), (25.95, 268), (26.00, 961), (26.03, 1870),
    (26.06, 1278), (26.11, 990), (26.16, 413), (26.26, 153), (26.37, 95), (26.47, 124), (26.6, nan),
    (26.72, 100), (26.84, 384), (26.93, 643), (26.97, 268), (27.03, 441), (27.07, 297), (27.16, 124),
    (27.26, 66), (27.37, 52), (27.6, nan),
    (27.72, 60), (27.85, 90), (27.95, 50), (28.00, 80)]

no3_pts = [
    (0.00, 2), (0.15, 4), (0.30, 8), (0.40, 6), (0.47, 3), (0.6, nan),
    (0.74, 15), (0.78, 30), (0.82, 45), (0.86, 30), (0.90, 40), (0.94, 50), (0.98, 35), (1.02, 55), (1.05, 60),
    (1.08, 40), (1.12, 45), (1.16, 30), (1.20, 25), (1.25, 10), (1.30, 25), (1.35, 8), (1.40, 20), (1.45, 3),
    (1.6, nan),
    (1.73, 80), (1.76, 40), (1.80, 15), (1.90, 8), (2.10, 5), (2.30, 5), (2.45, 6), (2.6, nan),
    (2.75, 15), (2.90, 10), (3.10, 8), (3.30, 8), (3.45, 12), (3.6, nan),
    (3.70, 10), (3.85, 8), (4.00, 5), (4.20, 8), (4.45, 5), (4.6, nan),
    (4.74, 35), (4.78, 20), (4.85, 8), (5.00, 5), (5.20, 5), (5.45, 8), (5.6, nan),
    (5.72, 5), (6.00, 5), (6.20, 8), (6.45, 5), (6.6, nan),
    (6.72, 4), (7.00, 3), (7.45, 3), (7.6, nan),
    (7.72, 3), (8.20, 5), (8.45, 15), (8.6, nan),
    (8.72, 3), (9.10, 4), (9.45, 3), (9.6, nan),
    (9.72, 3), (10.10, 3), (10.45, 4), (10.6, nan),
    (10.72, 3), (11.10, 4), (11.45, 3), (11.6, nan),
    (11.72, 3), (12.10, 3), (12.45, 4), (12.6, nan),
    (12.72, 4), (13.10, 5), (13.45, 6), (13.6, nan),
    (13.72, 10), (13.90, 15), (14.10, 10), (14.45, 12), (14.6, nan),
    (14.72, 5), (15.00, 8), (15.45, 6), (15.6, nan),
    (15.72, 5), (16.10, 6), (16.40, 10), (16.45, 15), (16.6, nan),
    (16.72, 8), (16.90, 10), (17.10, 8), (17.30, 30), (17.36, 80), (17.40, 20), (17.45, 10), (17.6, nan),
    (17.72, 5), (18.10, 8), (18.45, 6), (18.6, nan),
    (18.72, 5), (19.00, 8), (19.30, 15), (19.40, 46), (19.45, 10), (19.6, nan),
    (19.72, 10), (20.10, 15), (20.45, 12), (20.6, nan),
    (20.72, 8), (21.10, 10), (21.40, 18), (21.45, 12), (21.6, nan),
    (21.72, 8), (22.10, 8), (22.45, 10), (22.6, nan),
    (22.72, 12), (23.10, 15), (23.45, 12), (23.6, nan),
    (23.72, 15), (23.90, 20), (24.10, 12), (24.45, 15), (24.6, nan),
    (24.72, 20), (24.79, 24), (24.86, 30), (24.91, 40), (24.98, 30), (25.05, 18), (25.15, 12), (25.30, 15),
    (25.45, 12), (25.6, nan),
    (25.74, 20), (25.79, 40), (25.85, 30), (25.92, 25), (26.00, 28), (26.05, 35), (26.12, 18), (26.20, 25),
    (26.30, 12), (26.45, 15), (26.6, nan),
    (26.72, 12), (26.85, 8), (27.00, 10), (27.15, 7), (27.30, 8), (27.45, 6), (27.6, nan),
    (27.72, 10), (27.85, 12), (28.00, 8)]


def xy(pts):
    a = np.array(pts, dtype=float)
    return a[:, 0], a[:, 1]


# === Figure layout (pixel rows of the 1219x920 canvas) ===
W_PX, H_PX = 1219, 920
X0, X1 = 86, 1137


def box(top, bottom):
    return [X0 / W_PX, 1 - bottom / H_PX, (X1 - X0) / W_PX, (bottom - top) / H_PX]


fig = plt.figure(figsize=(W_PX / 100, H_PX / 100), dpi=100)
ax_bar = fig.add_axes(box(45.7, 63.3))
ax_w = fig.add_axes(box(67, 228.3))
ax_t = fig.add_axes(box(228.3, 377.7))
ax_c = fig.add_axes(box(403.3, 593))
ax_n = fig.add_axes(box(623.5, 864))

spine_col = '#3a3a3a'
grid_col = '#dcdcf2'
days = np.arange(1, 28)

# === Phase bar ===
bar_cols = ['#0070c0', '#00b0f0', '#dce6f2', '#0070c0', '#00b0f0']
ax_bar.barh(0, np.array(phase_end) - np.array(phase_start), left=phase_start, height=1,
            color=bar_cols, edgecolor='#5a5a5a', linewidth=1)
ax_bar.set_xlim(0, 28)
ax_bar.set_ylim(-0.5, 0.5)
ax_bar.axis('off')
label_pos = {'Continent I': (2.35, '#1f3864'), 'Marine': (14.7, '#9fb6da'), 'Continent II': (24.35, '#1f3864')}
for name in phase_names:
    if name:
        xd, col = label_pos[name]
        fig.text((X0 + xd / 28 * (X1 - X0)) / W_PX, 1 - 28 / H_PX, name, ha='center', va='center',
                 fontsize=17, color=col, family='Liberation Serif')

# === Common styling ===
for ax in (ax_w, ax_t, ax_c, ax_n):
    ax.set_xlim(0, 28)
    ax.vlines(days, 0, 1, transform=ax.get_xaxis_transform(), color=grid_col,
              lw=0.9, ls=(0, (3, 2)), zorder=0)
    for s in ax.spines.values():
        s.set_color(spine_col)
        s.set_linewidth(1.2)
    ax.spines['top'].set_visible(False)
    if ax is not ax_n:
        ax.spines['bottom'].set_visible(False)
        ax.set_xticks([])

# === Wind sticks ===
wd = np.array([p[0] for p in wind_pts])
wu = np.array([p[1] for p in wind_pts])
wv = np.array([p[2] for p in wind_pts])
ax_w.set_ylim(-6.27, 7.17)
ax_w.set_yticks([])
ax_w.axhline(0, color='k', lw=1.8, zorder=2)
ax_w.quiver(wd, np.zeros_like(wd), wu, wv, angles='uv', scale_units='inches', scale=1 / 0.12,
            units='dots', width=1.4, headwidth=1, headlength=0, headaxislength=0, minlength=0,
            pivot='tail', color='k', zorder=3)
ax_w.annotate('', xy=(4.0, 4.45), xytext=(4.0, 5.45),
              arrowprops=dict(arrowstyle='-|>', color='k', lw=0.9, mutation_scale=5,
                              shrinkA=0, shrinkB=0))
ax_w.text(4.0, 5.55, 'N', ha='center', va='bottom', fontsize=11)
ax_w.text(4.45, 4.95, '1 m/s', ha='left', va='center', fontsize=12)

# === Temperature / RH ===
td, tv = xy(temp_pts)
rd, rv = xy(rh_pts)
l_t, = ax_t.plot(td, tv, color='#ff2a2a', lw=1.1)
ax_t.set_ylim(24, 36)
ax_t.set_yticks([24, 28, 32, 36])
ax_rh = ax_t.twinx()
l_rh, = ax_rh.plot(rd, rv, color='#2222ee', lw=1.1)
ax_rh.set_ylim(40, 100)
ax_rh.set_yticks([40, 60, 80, 100])
ax_rh.set_yticks([50, 70, 90], minor=True)

# === O3 / NO / NO2 ===
od, ov = xy(o3_pts)
nd, nv = xy(no_pts)
n2d, n2v = xy(no2_pts)
ax_o3 = ax_c.twinx()
ax_c.set_zorder(ax_o3.get_zorder() + 1)
ax_c.patch.set_visible(False)
l_o3, = ax_o3.plot(od, ov, color='#ffa61e', lw=1.1)
l_no2, = ax_c.plot(n2d, n2v, color='#1aa8ee', lw=1.1)
l_no, = ax_c.plot(nd, nv, color='#7f22e6', lw=1.1)
ax_c.set_ylim(-0.4, 55.6)
ax_c.set_yticks([0, 10, 20, 30, 40, 50])
ax_o3.set_ylim(-1.1, 153.2)
ax_o3.set_yticks([0, 40, 80, 120])
ax_o3.set_yticks([20, 60, 100, 140], minor=True)

# === N2O5 / NO3 / ClNO2 ===
n5d, n5v = xy(n2o5_pts)
cd, cv = xy(clno2_pts)
n3d, n3v = xy(no3_pts)
ax_cl = ax_n.twinx()
ax_n.set_zorder(ax_cl.get_zorder() + 1)
ax_n.patch.set_visible(False)
l_cl, = ax_cl.plot(cd, cv, color='#22eef6', lw=1.1)
l_n5, = ax_n.plot(n5d, n5v, color='#ff1414', lw=1.2)
l_n3, = ax_n.plot(n3d, n3v, color='#3f9a1f', lw=1.1)
ax_n.set_ylim(0, 401.3)
ax_n.set_yticks([0, 100, 200, 300, 400])
ax_cl.set_ylim(0, 2082)
ax_cl.set_yticks([0, 500, 1000, 1500, 2000])
ax_n.set_xticks(range(0, 27, 2))
ax_n.set_xticklabels(date_labels)
ax_n.set_xticks([d for d in days if d % 2 == 1], minor=True)
ax_n.tick_params(axis='x', which='both', direction='in', length=5, width=1, labelsize=13,
                 pad=7, color=spine_col)

for ax in (ax_rh, ax_o3, ax_cl):
    for s in ax.spines.values():
        s.set_color(spine_col)
        s.set_linewidth(1.2)
    ax.spines['top'].set_visible(False)
    ax.spines['bottom'].set_visible(ax is ax_cl)

for ax in (ax_t, ax_c, ax_n, ax_rh, ax_o3, ax_cl):
    ax.tick_params(axis='y', which='major', direction='in', length=5, width=1,
                   labelsize=13.5, pad=3, color=spine_col, labelcolor='#222222')
    ax.tick_params(axis='y', which='minor', direction='in', length=3, width=1, color=spine_col)
ax_n.tick_params(axis='x', labelcolor='#222222')


# === Axis titles ===
def ylab(x, y, s, rot=90):
    fig.text(x / W_PX, 1 - y / H_PX, s, rotation=rot, ha='center', va='center',
             fontsize=13.5, color='#222222')


ylab(23, 133, 'Wind')
ylab(23, 318, r'Temp ($^\mathsf{o}$C)')
ylab(23, 490, r'NO & NO$_\mathsf{2}$ (ppbv)')
ylab(23, 755, r'N$_\mathsf{2}$O$_\mathsf{5}$, NO$_\mathsf{3}$ (pptv)')
ylab(1197, 309, 'RH (%)', 270)
ylab(1197, 507, r'O$_\mathsf{3}$ (ppbv)', 270)
ylab(1197, 747, r'ClNO$_\mathsf{2}$ (pptv)', 270)
fig.text(611 / W_PX, 1 - 910 / H_PX, 'Date', ha='center', va='center', fontsize=11.5, color='#222222')

# === Legends ===
leg_kw = dict(loc='upper left', frameon=False, handlelength=1.3, handletextpad=0.6,
              borderpad=0, borderaxespad=0)
fig.legend([l_t, l_rh], ['Temperature', 'RH'], bbox_to_anchor=(541 / W_PX, 1 - 179 / H_PX),
           fontsize=13, labelspacing=0.45, **leg_kw)
serif = {'family': 'Liberation Serif', 'size': 14}
fig.legend([l_o3, l_no, l_no2], ['O$_3$', 'NO', 'NO$_2$'], bbox_to_anchor=(541 / W_PX, 1 - 399 / H_PX),
           prop=serif, labelspacing=0.45, **leg_kw)
fig.legend([l_cl, l_n5, l_n3], ['ClNO$_2$', 'N$_2$O$_5$', 'NO$_3$'],
           bbox_to_anchor=(541 / W_PX, 1 - 650 / H_PX), prop=serif, labelspacing=0.55, **leg_kw)

fig.savefig('out.png', dpi=100)
